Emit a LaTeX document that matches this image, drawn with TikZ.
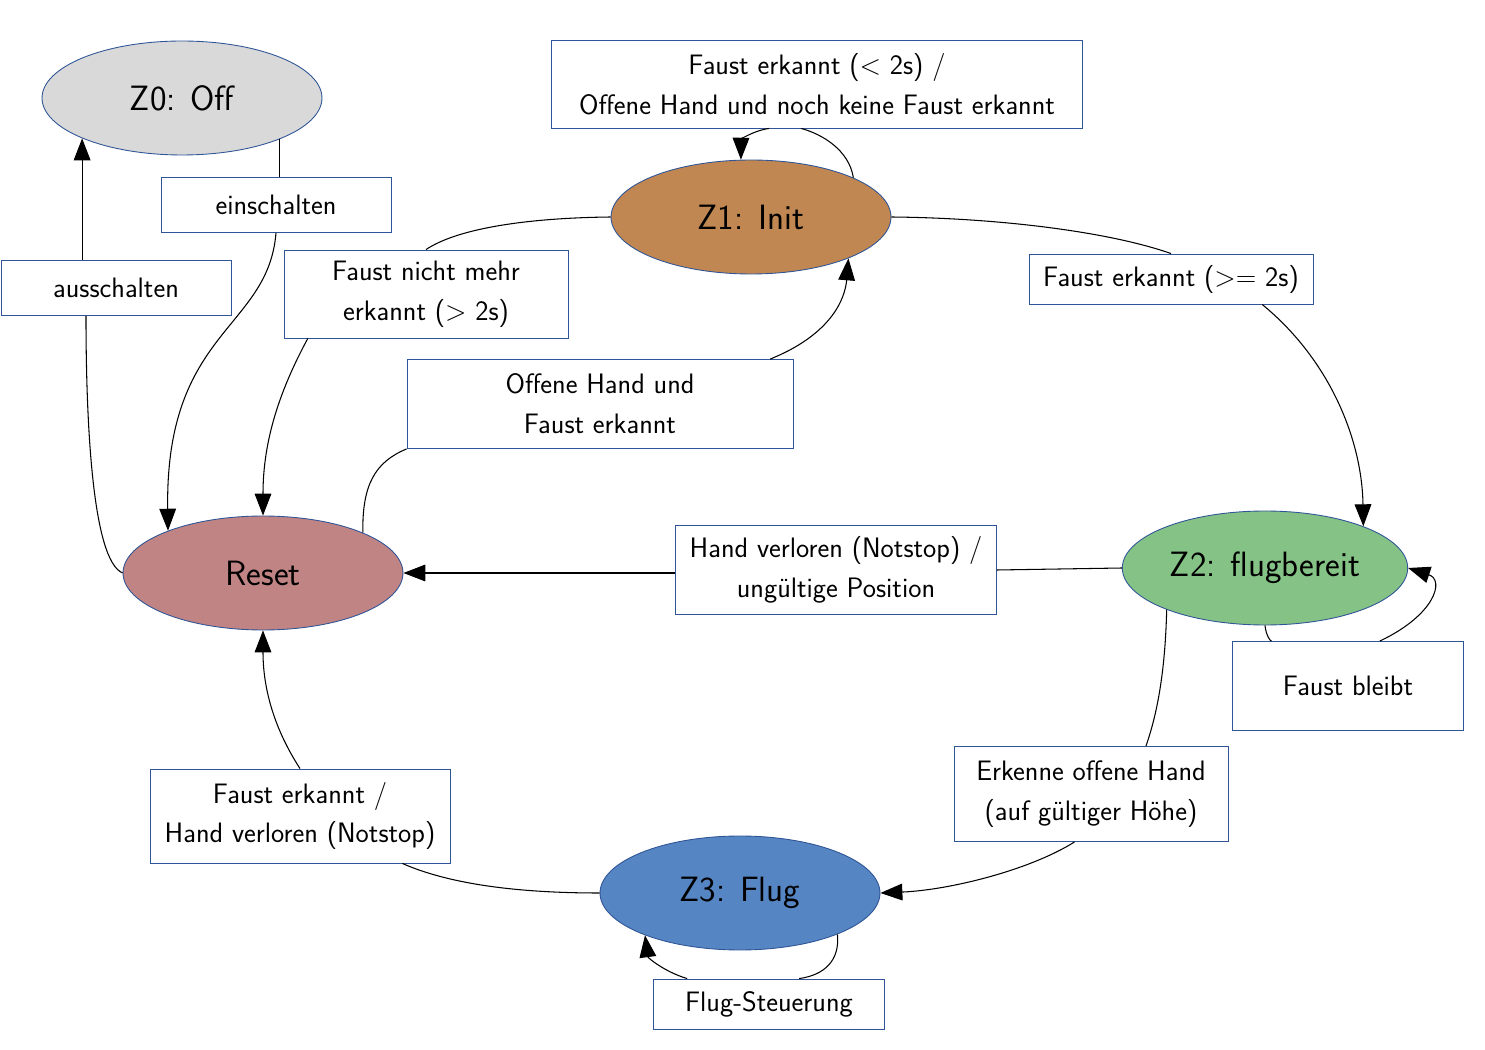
\documentclass[tikz,border=0pt]{standalone}
\usetikzlibrary{calc}
\usetikzlibrary{arrows.meta, shapes.geometric}

\definecolor{rimblue}{RGB}{47,85,151}
\definecolor{offgray}{RGB}{217,217,217}
\definecolor{initbrown}{RGB}{192,135,82}
\definecolor{readygreen}{RGB}{133,194,133}
\definecolor{resetred}{RGB}{192,132,132}
\definecolor{flugblue}{RGB}{85,133,194}

\begin{document}
\begin{tikzpicture}[
  x=0.02cm, y=-0.02cm,
  state/.style={ellipse, draw=rimblue, line width=0.5pt, minimum width=5.6cm, minimum height=2.28cm, font=\sffamily\fontsize{20}{24}\selectfont},
  cond/.style={rectangle, draw=rimblue, fill=white, line width=0.5pt, inner sep=0pt, align=center, font=\sffamily\fontsize{16}{22.7}\selectfont},
  link/.style={line width=0.6pt},
  arrow/.style={-{Triangle[length=12.5pt,width=9.5pt]}, line width=0.6pt}
]
\useasboundingbox (0,0) rectangle (1485,1050);

\node[state, fill=offgray] (z0) at (182,98) {Z0: Off};
\node[state, fill=initbrown] (z1) at (751,217) {Z1: Init};
\node[state, fill=readygreen] (z2) at (1265,568) {Z2: flugbereit};
\node[state, fill=resetred] (reset) at (263,573) {Reset};
\node[state, fill=flugblue] (z3) at (740,893) {Z3: Flug};

\node[cond, minimum width=4.6cm, minimum height=1.1cm] (ein) at (276,205) {einschalten};
\node[cond, minimum width=4.6cm, minimum height=1.1cm] (aus) at (116,288) {ausschalten};
\node[cond, minimum width=5.68cm, minimum height=1.76cm] (nichtmehr) at (426,294) {Faust nicht mehr\\erkannt (> 2s)};
\node[cond, minimum width=10.62cm, minimum height=1.76cm] (kurz) at (817,84) {Faust erkannt (< 2s) /\\Offene Hand und noch keine Faust erkannt};
\node[cond, minimum width=5.68cm, minimum height=1cm] (lang) at (1171,279) {Faust erkannt (>= 2s)};
\node[cond, minimum width=7.72cm, minimum height=1.78cm] (offen) at (600,404) {Offene Hand und\\Faust erkannt};
\node[cond, minimum width=6.42cm, minimum height=1.78cm] (verloren) at (836,570) {Hand verloren (Notstop) /\\ungültige Position};
\node[cond, minimum width=4.62cm, minimum height=1.78cm] (bleibt) at (1348,686) {Faust bleibt};
\node[cond, minimum width=5.48cm, minimum height=1.9cm] (hoehe) at (1091,794) {Erkenne offene Hand\\(auf gültiger Höhe)};
\node[cond, minimum width=6cm, minimum height=1.88cm] (notstop) at (300,816) {Faust erkannt /\\Hand verloren (Notstop)};
\node[cond, minimum width=4.62cm, minimum height=1cm] (steuer) at (769,1004) {Flug-Steuerung};

% Z0 <-> Reset
\draw[link] (z0.-23) -- (z0.-23 |- ein.north);
\draw[arrow] (ein.south) .. controls (268,330) and (165,330) .. (reset.156);
\draw[link] (reset.west) .. controls (92,560) and (86,420) .. ($(aus.south west)!0.37!(aus.south east)$);
\draw[arrow] (z0.202 |- aus.north) -- (z0.202);

% Z1
\draw[link] (z1.west) .. controls (520,218) and (455,230) .. (nichtmehr.north);
\draw[arrow] ($(nichtmehr.south west)!0.085!(nichtmehr.south east)$) .. controls (280,390) and (263,440) .. (reset.north);
\draw[link] (z1.21) .. controls (849,150) and (822,134) .. ($(kurz.south west)!0.47!(kurz.south east)$);
\draw[arrow] ($(kurz.south west)!0.41!(kurz.south east)$) .. controls (752,131) and (741,140) .. (z1.100);
\draw[link] (z1.east) .. controls (1000,218) and (1110,232) .. (lang.north);
\draw[arrow] ($(lang.south west)!0.82!(lang.south east)$) .. controls (1330,360) and (1362,440) .. (z2.23);
\draw[link] (reset.22) .. controls (362,485) and (375,462) .. (offen.south west);
\draw[arrow] ($(offen.north west)!0.94!(offen.north east)$) .. controls (830,335) and (845,300) .. (z1.-23);

% Z2
\draw[link] (z2.west) -- (verloren.east);
\draw[arrow] (verloren.west |- reset.east) -- (reset.east);
\draw[link] (z2.south) .. controls (1266,635) and (1270,641) .. ($(bleibt.north west)!0.17!(bleibt.north east)$);
\draw[arrow] ($(bleibt.north west)!0.637!(bleibt.north east)$) .. controls (1435,615) and (1445,580) .. (z2.east);
\draw[link] (z2.-157) .. controls (1165,680) and (1155,720) .. ($(hoehe.north west)!0.70!(hoehe.north east)$);
\draw[arrow] ($(hoehe.south west)!0.44!(hoehe.south east)$) .. controls (1030,870) and (950,890) .. (z3.east);

% Z3
\draw[link] (z3.west) .. controls (500,893) and (440,880) .. ($(notstop.south west)!0.84!(notstop.south east)$);
\draw[arrow] (notstop.north) .. controls (275,730) and (263,690) .. (reset.south);
\draw[link] (z3.-23) .. controls (840,960) and (825,975) .. ($(steuer.north west)!0.63!(steuer.north east)$);
\draw[arrow] ($(steuer.north west)!0.147!(steuer.north east)$) .. controls (665,972) and (648,958) .. (z3.-156);
\end{tikzpicture}
\end{document}
